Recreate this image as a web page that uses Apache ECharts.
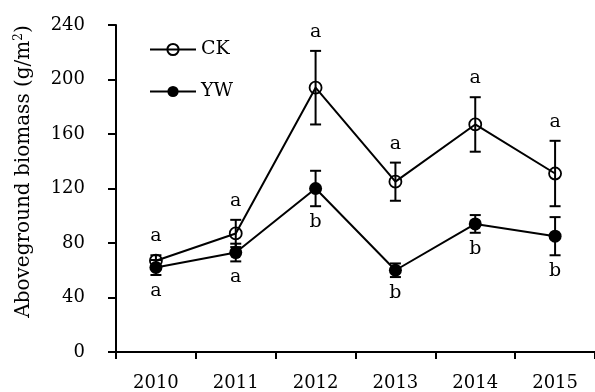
<!DOCTYPE html>
<html>
<head>
<meta charset="utf-8">
<script src="https://cdn.jsdelivr.net/npm/echarts@6/dist/echarts.min.js"></script>
<style>html,body{margin:0;padding:0;background:#fff;}#chart{width:595px;height:392px;}</style>
</head>
<body>
<div id="chart"></div>
<script>
const categories = ['2010', '2011', '2012', '2013', '2014', '2015'];
const ckMean = [67, 87, 194, 125, 167, 131];
const ckSE = [4, 10, 27, 14, 20, 24];
const ywMean = [62, 73, 120, 60, 94, 85];
const ywSE = [5.5, 6.5, 13, 5, 6.5, 14];
const ckLetters = ['a', 'a', 'a', 'a', 'a', 'a'];
const ywLetters = ['a', 'a', 'b', 'b', 'b', 'b'];
const yTicks = [0, 40, 80, 120, 160, 200, 240];

const FONT = 'DejaVu Serif';

function errSeries(name, means, ses, letters, above) {
  return {
    type: 'custom',
    name: name + '-err',
    z: 5,
    silent: true,
    encode: { x: 0, y: [1, 2] },
    data: means.map((m, i) => [i, m - ses[i], m + ses[i]]),
    renderItem: function (params, api) {
      const lo = api.coord([api.value(0), api.value(1)]);
      const hi = api.coord([api.value(0), api.value(2)]);
      const hw = 5.5;
      const st = { stroke: '#000', lineWidth: 2 };
      const letter = letters[params.dataIndex];
      return {
        type: 'group',
        children: [
          { type: 'line', shape: { x1: lo[0], y1: lo[1], x2: hi[0], y2: hi[1] }, style: st },
          { type: 'line', shape: { x1: lo[0] - hw, y1: lo[1], x2: lo[0] + hw, y2: lo[1] }, style: st },
          { type: 'line', shape: { x1: hi[0] - hw, y1: hi[1], x2: hi[0] + hw, y2: hi[1] }, style: st },
          {
            type: 'text',
            style: {
              text: letter,
              x: hi[0],
              y: above ? hi[1] - 19 : lo[1] + 16,
              align: 'center',
              verticalAlign: 'middle',
              fontFamily: FONT,
              fontSize: 19,
              fill: '#000'
            }
          }
        ]
      };
    }
  };
}

const chart = echarts.init(document.getElementById('chart'), null, { renderer: 'canvas' });
chart.setOption({
  animation: false,
  backgroundColor: '#fff',
  textStyle: { fontFamily: FONT, color: '#000' },
  grid: { left: 116, top: 25, width: 480, height: 327, containLabel: false },
  legend: {
    orient: 'vertical',
    left: 144,
    top: 35,
    itemWidth: 46,
    itemHeight: 14,
    itemGap: 23,
    textStyle: { fontFamily: FONT, fontSize: 19, color: '#000', lineHeight: 18 },
    data: ['CK', 'YW']
  },
  xAxis: {
    type: 'category',
    data: categories,
    boundaryGap: true,
    axisLine: { show: true, lineStyle: { color: '#000', width: 2 } },
    axisTick: { show: true, length: 7, lineStyle: { color: '#000', width: 2 } },
    axisLabel: { color: '#000', fontFamily: FONT, fontSize: 18, margin: 22 },
    splitLine: { show: false }
  },
  yAxis: {
    type: 'value',
    min: yTicks[0],
    max: yTicks[yTicks.length - 1],
    interval: yTicks[1] - yTicks[0],
    name: 'Aboveground biomass (g/m{sup|2})',
    nameLocation: 'middle',
    nameGap: 82,
    nameTextStyle: {
      fontFamily: FONT, fontSize: 20, color: '#000',
      padding: [0, 0, 0, 34],
      rich: { sup: { fontFamily: FONT, fontSize: 12, color: '#000', padding: [0, 0, 9, 0] } }
    },
    axisLine: { show: true, lineStyle: { color: '#000', width: 2 } },
    axisTick: { show: true, length: 8, lineStyle: { color: '#000', width: 2 } },
    axisLabel: { color: '#000', fontFamily: FONT, fontSize: 18, margin: 31 },
    splitLine: { show: false }
  },
  series: [
    {
      type: 'line',
      name: 'CK',
      data: ckMean,
      z: 3,
      symbol: 'circle',
      symbolSize: 12,
      lineStyle: { color: '#000', width: 2 },
      itemStyle: { color: 'rgba(255,255,255,0)', borderColor: '#000', borderWidth: 1.8 }
    },
    {
      type: 'line',
      name: 'YW',
      data: ywMean,
      z: 3,
      symbol: 'circle',
      symbolSize: 13,
      lineStyle: { color: '#000', width: 2 },
      itemStyle: { color: '#000', borderColor: '#000', borderWidth: 0 }
    },
    errSeries('CK', ckMean, ckSE, ckLetters, true),
    errSeries('YW', ywMean, ywSE, ywLetters, false)
  ]
});
</script>
</body>
</html>
